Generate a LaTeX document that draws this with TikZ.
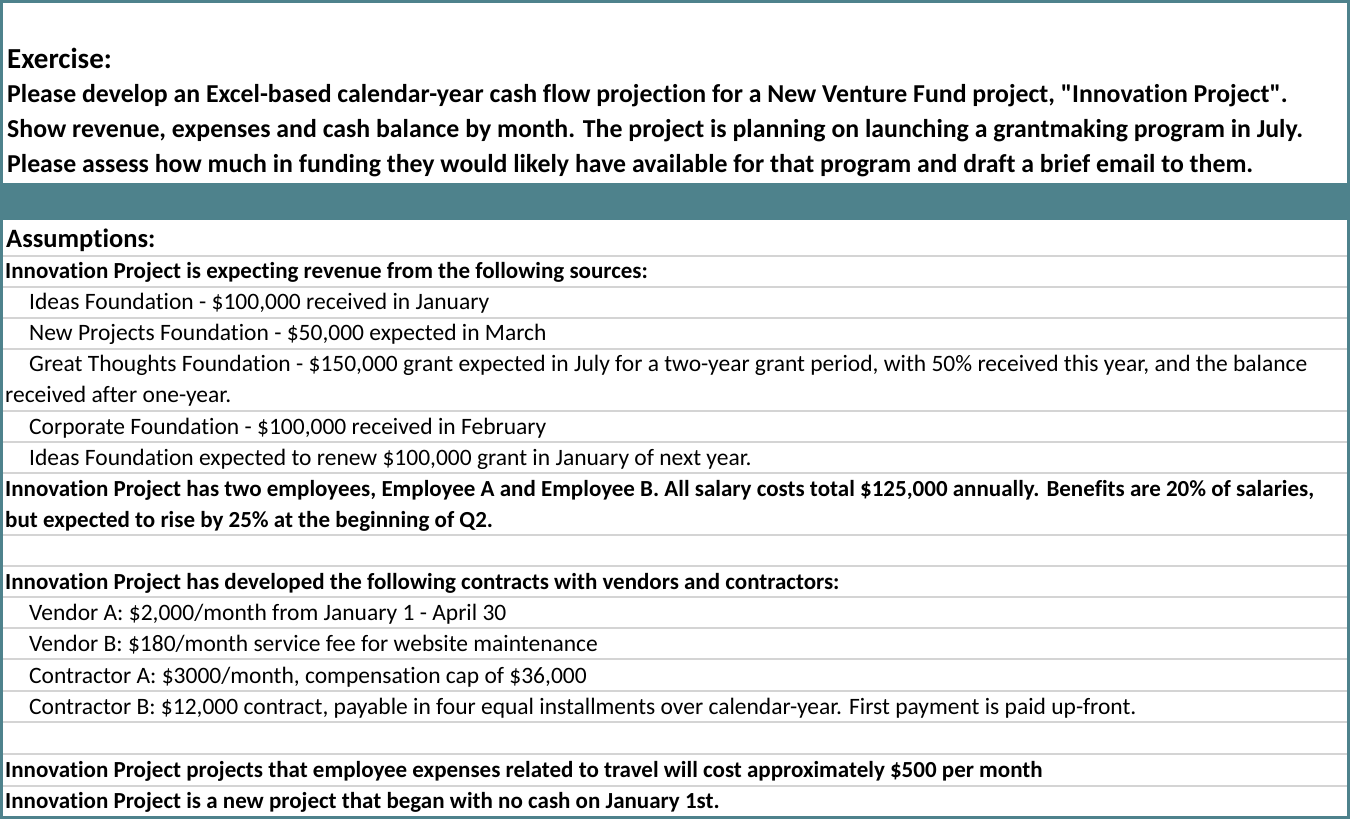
\documentclass[tikz,border=0pt]{standalone}
\usepackage{fontspec}
\setmainfont{Carlito}[Ligatures=NoCommon]
\newfontfamily\rawf{Carlito}
\definecolor{teal1}{HTML}{4E828C}
\definecolor{grid}{HTML}{D4D4D4}
\newcommand{\dq}{{\rawf"}}
\begin{document}
\begin{tikzpicture}[x=1pt,y=-1pt,
  big/.style={anchor=west,inner sep=0,font=\fontsize{25.8}{30}\selectfont\bfseries},
  ex/.style={anchor=west,inner sep=0,font=\fontsize{29}{32}\selectfont\bfseries},
  hd/.style={anchor=west,inner sep=0,font=\fontsize{26.5}{30}\selectfont\bfseries},
  bb/.style={anchor=west,inner sep=0,font=\fontsize{23}{27}\selectfont\bfseries},
  tx/.style={anchor=west,inner sep=0,font=\fontsize{23.5}{27}\selectfont}]
\useasboundingbox (0,0) rectangle (1350,820);
\fill[white] (0,0) rectangle (1350,820);
\fill[teal1] (2,183) rectangle (1348,220);
\foreach \y in {256,287,318,349,411,442,473,535,566,597,628,659,691,722,754,786}
  \draw[grid,line width=1.5] (2,\y) -- (1348,\y);
\draw[teal1,line width=3] (1.5,1.5) rectangle (1348.5,817.5);
\node[ex] (e0) at (7,58) {Exercise:};
\node[big] (e1) at (7,96) {Please develop an Excel-based calendar-year cash flow projection for a New Venture Fund project, \dq Innovation Project\dq.};
\node[big] (e2) at (7,131) {Show revenue, expenses and cash balance by month. The project is planning on launching a grantmaking program in July.};
\node[big] (e3) at (7,166) {Please assess how much in funding they would likely have available for that program and draft a brief email to them.};
\node[hd] (a0) at (6,240) {Assumptions:};
\node[bb] (a1) at (5,272) {Innovation Project is expecting revenue from the following sources:};
\node[tx] (a2) at (29,303) {Ideas Foundation - \$100,000 received in January};
\node[tx] (a3) at (29,334) {New Projects Foundation - \$50,000 expected in March};
\node[tx] (a4) at (29,365) {Great Thoughts Foundation - \$150,000 grant expected in July for a two-year grant period, with 50\% received this year, and the balance};
\node[tx] (a5) at (5,396) {received after one-year.};
\node[tx] (a6) at (29,428) {Corporate Foundation - \$100,000 received in February};
\node[tx] (a7) at (29,459) {Ideas Foundation expected to renew \$100,000 grant in January of next year.};
\node[bb] (a8) at (5,490) {Innovation Project has two employees, Employee A and Employee B. All salary costs total \$125,000 annually. Benefits are 20\% of salaries,};
\node[bb] (a9) at (5,521) {but expected to rise by 25\% at the beginning of Q2.};
\node[bb] (b1) at (5,583) {Innovation Project has developed the following contracts with vendors and contractors:};
\node[tx] (b2) at (29,614) {Vendor A: \$2,000/month from January 1 - April 30};
\node[tx] (b3) at (29,645) {Vendor B: \$180/month service fee for website maintenance};
\node[tx] (b4) at (29,677) {Contractor A: \$3000/month, compensation cap of \$36,000};
\node[tx] (b5) at (29,708) {Contractor B: \$12,000 contract, payable in four equal installments over calendar-year. First payment is paid up-front.};
\node[bb] (c1) at (5,771) {Innovation Project projects that employee expenses related to travel will cost approximately \$500 per month};
\node[bb] (c2) at (5,802) {Innovation Project is a new project that began with no cash on January 1st.};
\end{tikzpicture}
\end{document}
